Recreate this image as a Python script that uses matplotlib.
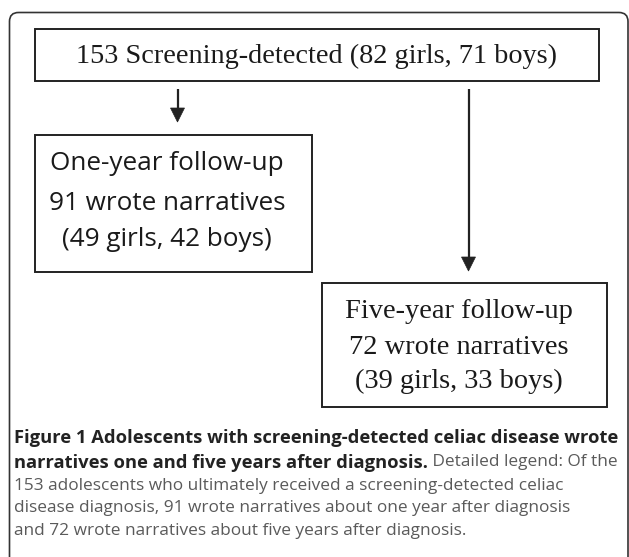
import matplotlib
matplotlib.use("Agg")
import matplotlib.pyplot as plt
from matplotlib.patches import Rectangle, FancyBboxPatch

# ---- data ----
stages = ["Screening-detected", "One-year follow-up", "Five-year follow-up"]
totals = [153, 91, 72]
girls = [82, 49, 39]
boys = [71, 42, 33]

caption_bold = ["Figure 1 Adolescents with screening-detected celiac disease wrote",
                "narratives one and five years after diagnosis."]
caption_rest = [" Detailed legend: Of the",
                "153 adolescents who ultimately received a screening-detected celiac",
                "disease diagnosis, 91 wrote narratives about one year after diagnosis",
                "and 72 wrote narratives about five years after diagnosis."]

W, H = 629, 557
fig = plt.figure(figsize=(W / 100, H / 100), dpi=100)
ax = fig.add_axes([0, 0, 1, 1])
ax.set_xlim(0, W)
ax.set_ylim(H, 0)
ax.axis("off")

edge = "#222222"
serif = "Liberation Serif"
sans = "Open Sans"

# outer rounded frame
ax.add_patch(FancyBboxPatch((9.5, 12.5), 618.5, 600, boxstyle="round,pad=0,rounding_size=9",
                            fill=False, ec="#333333", lw=1.2))

# box 1
ax.add_patch(Rectangle((34.5, 28.5), 564.5, 52.2, fill=False, ec=edge, lw=1.4))
ax.text(316, 56, f"{totals[0]} {stages[0]} ({girls[0]} girls, {boys[0]} boys)",
        family=serif, fontsize=20.3, ha="center", va="center", color="#1a1a1a")

# box 2
ax.add_patch(Rectangle((34.5, 134.5), 277, 137, fill=False, ec=edge, lw=1.4))
lines2 = [stages[1], f"{totals[1]} wrote narratives", f"({girls[1]} girls, {boys[1]} boys)"]
for y, t in zip([163, 204, 239], lines2):
    ax.text(167, y, t, family=sans, fontsize=18.8, ha="center", va="center", color="#1a1a1a")

# box 3
ax.add_patch(Rectangle((322, 282.7), 284.5, 124.5, fill=False, ec=edge, lw=1.4))
lines3 = [stages[2], f"{totals[2]} wrote narratives", f"({girls[2]} girls, {boys[2]} boys)"]
for y, t in zip([312, 347, 381], lines3):
    ax.text(459, y, t, family=serif, fontsize=20.4, ha="center", va="center", color="#1a1a1a")

# arrows
def down_arrow(x, y0, y1):
    hl = 14
    ax.plot([x, x], [y0, y1 - hl + 1], color=edge, lw=1.6, solid_capstyle="butt")
    ax.add_patch(plt.Polygon([[x - 7, y1 - hl], [x + 7, y1 - hl], [x, y1]],
                             closed=True, fc=edge, ec=edge, lw=0.5))

down_arrow(177.5, 89, 122)
down_arrow(468.5, 89, 271)

# caption
cap_x = 14
cap_y = [438, 462.5, 486, 508.5, 531]
bold_fs = 13.2
reg_fs = 12.4
t1 = ax.text(cap_x, cap_y[0], caption_bold[0], family=sans, fontsize=bold_fs,
             fontweight="bold", ha="left", va="center", color="#222222")
t2 = ax.text(cap_x, cap_y[1], caption_bold[1], family=sans, fontsize=bold_fs,
             fontweight="bold", ha="left", va="center", color="#222222")
fig.canvas.draw()
r = fig.canvas.get_renderer()
bb = t2.get_window_extent(r)
x_end = ax.transData.inverted().transform((bb.x1, bb.y0))[0]
ax.text(x_end, cap_y[1], caption_rest[0], family=sans, fontsize=reg_fs,
        ha="left", va="center", color="#5a5a5a")
for y, t in zip(cap_y[2:], caption_rest[1:]):
    ax.text(cap_x, y, t, family=sans, fontsize=reg_fs, ha="left", va="center", color="#5a5a5a")

fig.savefig("out.png", dpi=100)
